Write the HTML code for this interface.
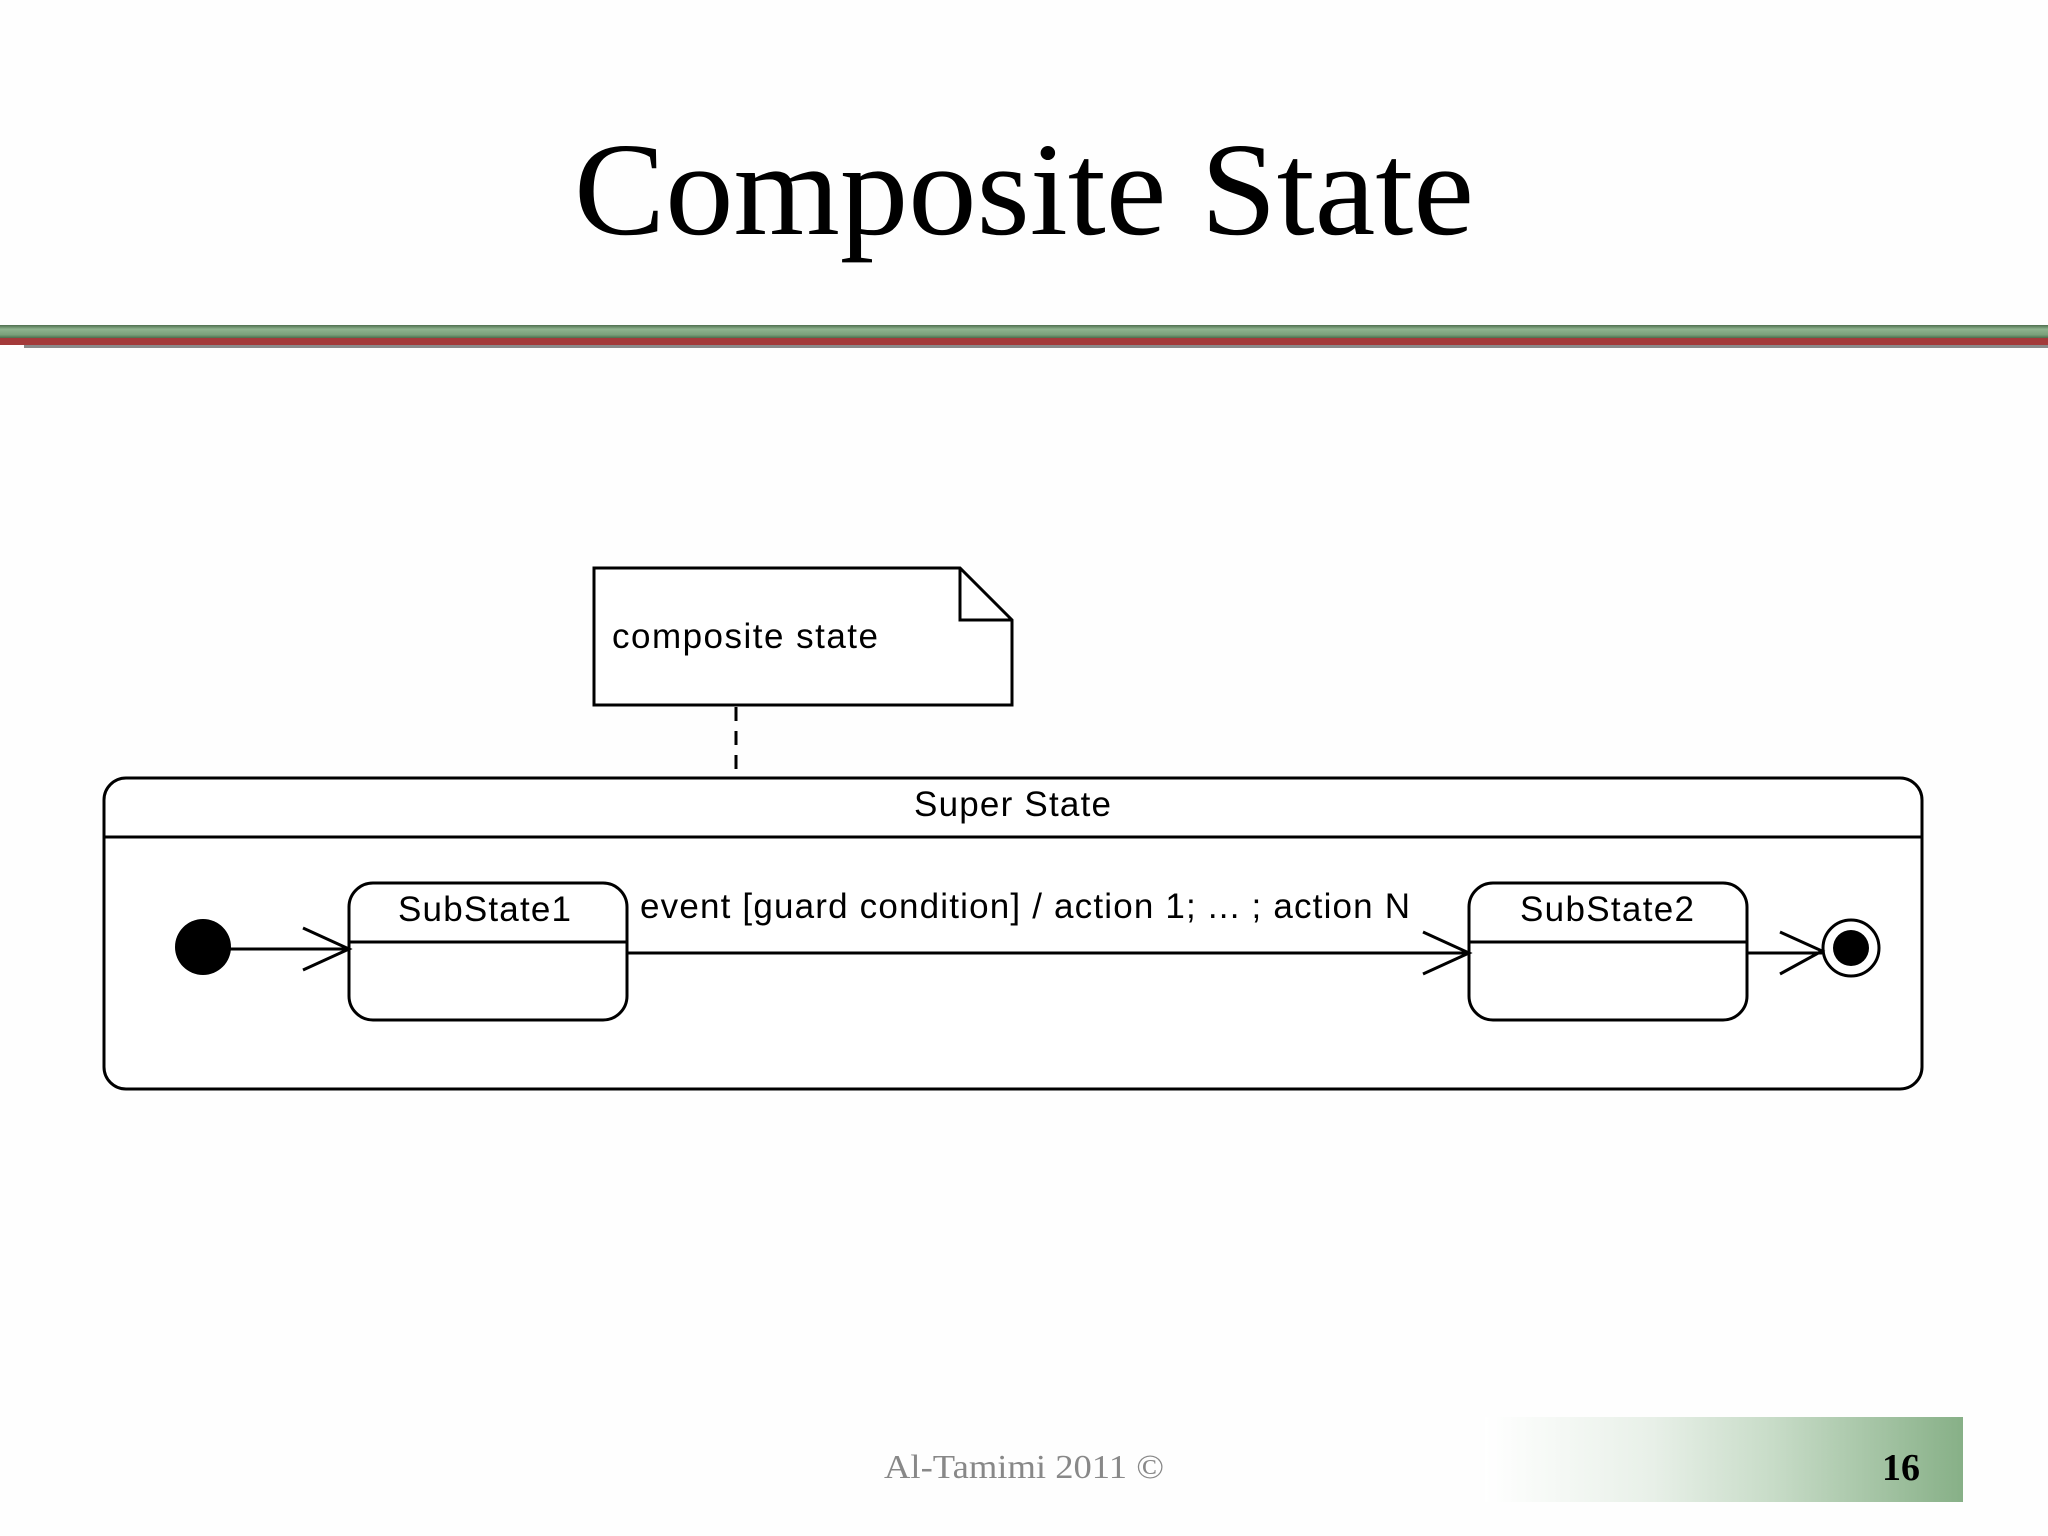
<!DOCTYPE html>
<html><head><meta charset="utf-8"><style>
html,body{margin:0;padding:0;background:#fefefe;}
body{width:2048px;height:1536px;position:relative;overflow:hidden;}
</style></head><body>
<svg width="2048" height="1536" viewBox="0 0 2048 1536" xmlns="http://www.w3.org/2000/svg" style="position:absolute;left:0;top:0">
<defs>
<linearGradient id="gb" x1="0" y1="0" x2="0" y2="1">
<stop offset="0" stop-color="#4e6e4e"/><stop offset="0.3" stop-color="#8fb38f"/><stop offset="0.7" stop-color="#7aa07a"/><stop offset="1" stop-color="#3f5f3f"/>
</linearGradient>
<linearGradient id="fg" x1="0" y1="0" x2="1" y2="0">
<stop offset="0" stop-color="#ffffff"/><stop offset="0.35" stop-color="#e8f0e8"/><stop offset="0.6" stop-color="#c8dcc8"/><stop offset="1" stop-color="#87b087"/>
</linearGradient>
</defs>
<text x="1024" y="234" text-anchor="middle" font-family="Liberation Serif, serif" font-size="133" fill="#000" textLength="900" lengthAdjust="spacingAndGlyphs">Composite State</text>
<rect x="0" y="325" width="2048" height="14" fill="url(#gb)"/>
<rect x="0" y="338" width="2048" height="7" fill="#a33a3a"/>
<rect x="24" y="345" width="2024" height="3" fill="#8a8a8a"/>

<g fill="none" stroke="#000" stroke-width="3">
<path d="M594 568 H960 L1012 620 V705 H594 Z" fill="#fff"/>
<path d="M960 568 V620 H1012"/>
<line x1="736" y1="707" x2="736" y2="776" stroke-dasharray="14,10"/>
<rect x="104" y="778" width="1818" height="311" rx="22" fill="#fff"/>
<line x1="104" y1="837" x2="1922" y2="837"/>
<rect x="349" y="883" width="278" height="137" rx="24"/>
<line x1="349" y1="942" x2="627" y2="942"/>
<rect x="1469" y="883" width="278" height="137" rx="24"/>
<line x1="1469" y1="942" x2="1747" y2="942"/>
<line x1="203" y1="949" x2="349" y2="949"/>
<path d="M303 928 L349 949 L303 970"/>
<line x1="627" y1="953" x2="1469" y2="953"/>
<path d="M1423 932 L1469 953 L1423 974"/>
<line x1="1747" y1="953" x2="1822" y2="953"/>
<path d="M1780 932 L1822 951 L1780 974"/>
<circle cx="1851" cy="948" r="28"/>
</g>
<circle cx="203" cy="947" r="28" fill="#000"/>
<circle cx="1851" cy="948" r="18" fill="#000"/>

<g font-family="Liberation Sans, sans-serif" font-size="35" fill="#000" lengthAdjust="spacingAndGlyphs">
<text x="612" y="648" textLength="266">composite state</text>
<text x="914" y="816" textLength="197">Super State</text>
<text x="398" y="921" textLength="173">SubState1</text>
<text x="1520" y="921" textLength="174">SubState2</text>
<text x="640" y="918" textLength="770">event [guard condition] / action 1; ... ; action N</text>
</g>

<rect x="1485" y="1417" width="478" height="85" fill="url(#fg)"/>
<text x="1024" y="1478" text-anchor="middle" font-family="Liberation Serif, serif" font-size="34" fill="#888" textLength="280" lengthAdjust="spacingAndGlyphs">Al-Tamimi 2011 ©</text>
<text x="1901" y="1480" text-anchor="middle" font-family="Liberation Serif, serif" font-size="38" font-weight="bold" fill="#000">16</text>
</svg>
</body></html>
